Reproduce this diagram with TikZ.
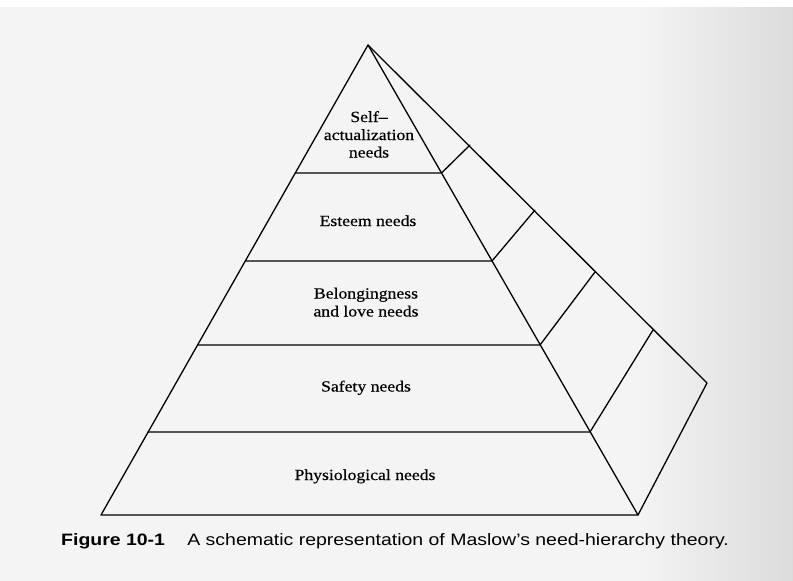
\documentclass[tikz,border=0pt]{standalone}
\usepackage{fontspec}
\newfontfamily\labfont[FakeStretch=1.14,FakeBold=0.4]{Liberation Serif}
\newfontfamily\capfont[FakeStretch=1.18]{Liberation Sans}
\begin{document}
\begin{tikzpicture}[x=1pt,y=-1pt,
  pyr/.style={line width=1.3pt, line join=round, line cap=round},
  lab/.style={font=\labfont\fontsize{15.5}{18}\selectfont, anchor=base, inner sep=0pt},
  captext/.style={font=\capfont\fontsize{16.5}{20}\selectfont, anchor=base west, inner sep=0pt}]
\useasboundingbox (0,0) rectangle (793,581);
\fill[white] (0,0) rectangle (793,581);
\fill[gray!9] (0,7) rectangle (793,581);
\shade[left color=gray!9, right color=gray!28] (640,7) rectangle (793,581);
% corners
\coordinate (A) at (368,45);
\coordinate (L1) at (295.3,173); \coordinate (F1) at (441.5,173); \coordinate (B1) at (470,145);
\coordinate (L2) at (245.3,261); \coordinate (F2) at (492,261);   \coordinate (B2) at (535,210);
\coordinate (L3) at (197.6,345); \coordinate (F3) at (540,345);   \coordinate (B3) at (595,272);
\coordinate (L4) at (148,432);   \coordinate (F4) at (590,432);   \coordinate (B4) at (653,330);
\coordinate (L5) at (101,515);   \coordinate (F5) at (638,515);   \coordinate (B5) at (707,383);
% outline
\draw[pyr] (A) -- (L5) -- (F5) -- cycle;
\draw[pyr] (A) -- (B5) -- (F5);
% levels
\draw[pyr] (L1) -- (F1) -- (B1);
\draw[pyr] (L2) -- (F2) -- (B2);
\draw[pyr] (L3) -- (F3) -- (B3);
\draw[pyr] (L4) -- (F4) -- (B4);
% labels
\node[lab] (s1) at (369,122) {Self–};
\node[lab] (s2) at (369,140) {actualization};
\node[lab] (s3) at (369,157.5) {needs};
\node[lab] (e1) at (368,226) {Esteem needs};
\node[lab] (b1) at (366,298.5) {Belongingness};
\node[lab] (b2) at (366,316.5) {and love needs};
\node[lab] (sf) at (366,391.5) {Safety needs};
\node[lab] (ph) at (365,480) {Physiological needs};
% caption
\node[captext] (capt) at (61,545) {\bfseries Figure 10-1\hspace{1.35em}\mdseries A schematic representation of Maslow’s need-hierarchy theory.};
\end{tikzpicture}
\end{document}
